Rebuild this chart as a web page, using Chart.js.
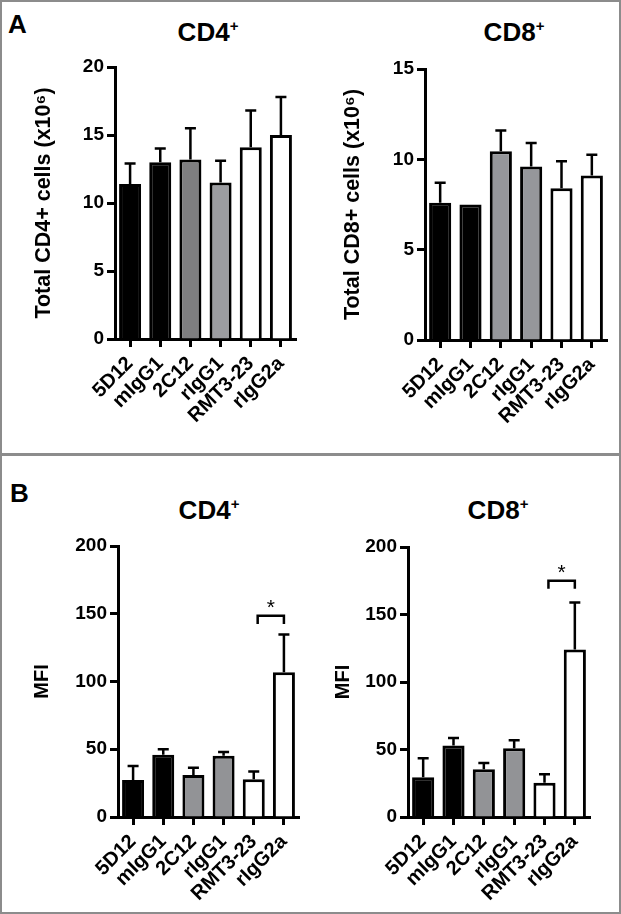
<!DOCTYPE html>
<html>
<head>
<meta charset="utf-8">
<script src="https://cdn.jsdelivr.net/npm/chart.js@4.4.0/dist/chart.umd.min.js"></script>
<style>
  body { margin: 0; background: #fff; font-family: 'Liberation Sans', Arial, sans-serif; }
  #fig { position: relative; width: 621px; height: 914px; overflow: hidden; }
  .moldura { position: absolute; border: 2px solid #8c8c8c; box-sizing: border-box; }
  .caixa { position: absolute; }
  .titulo { position: absolute; width: 120px; text-align: center; font-weight: bold; font-size: 26px; line-height: 26px; }
  .titulo sup { font-size: 15px; line-height: 0; }
  .letra { position: absolute; font-weight: bold; font-size: 26px; line-height: 26px; }
</style>
</head>
<body>
<div id="fig">
  <div class="moldura" style="left:0;top:0;width:621px;height:456px;"></div>
  <div class="moldura" style="left:0;top:453px;width:621px;height:461px;"></div>

  <div class="letra" style="left:8px;top:11px;">A</div>
  <div class="letra" style="left:10px;top:480px;">B</div>

  <div class="titulo" style="left:148px;top:19px;">CD4<sup>+</sup></div>
  <div class="titulo" style="left:454px;top:19px;">CD8<sup>+</sup></div>
  <div class="titulo" style="left:149px;top:497px;">CD4<sup>+</sup></div>
  <div class="titulo" style="left:438px;top:497px;">CD8<sup>+</sup></div>

  <div class="caixa" style="left:0;top:50px;width:310px;height:400px;"><canvas id="total-cd4"></canvas></div>
  <div class="caixa" style="left:310px;top:50px;width:310px;height:400px;"><canvas id="total-cd8"></canvas></div>
  <div class="caixa" style="left:0;top:520px;width:310px;height:393px;"><canvas id="mfi-cd4"></canvas></div>
  <div class="caixa" style="left:310px;top:520px;width:310px;height:393px;"><canvas id="mfi-cd8"></canvas></div>
</div>

<script>
// dados
var grupos = ['5D12', 'mIgG1', '2C12', 'rIgG1', 'RMT3-23', 'rIgG2a'];

var totalCd4 = [11.4, 13.0, 13.2, 11.5, 14.1, 15.0];
var totalCd4Erro = [1.5, 1.0, 2.3, 1.6, 2.7, 2.8];

var totalCd8 = [7.6, 7.5, 10.45, 9.6, 8.4, 9.1];
var totalCd8Erro = [1.1, 0, 1.15, 1.3, 1.5, 1.15];

var mfiCd4 = [27.3, 46, 31, 45.2, 27.8, 106.8];
var mfiCd4Erro = [10.3, 4, 5.4, 2.8, 5.7, 27.9];

var mfiCd8 = [29.5, 53, 35.4, 51, 25.3, 124];
var mfiCd8Erro = [14, 5.5, 4.6, 5.8, 6.4, 34.9];

// significancia: colchete entre RMT3-23 e rIgG2a
var sigCd4 = { de: 4, ate: 5, topo: 148.6, perna: 142.4, estrela: 158.5 };
var sigCd8 = { de: 4, ate: 5, topo: 175, perna: 169, estrela: 185 };

var coresTotalCd4 = ['#000000', '#000000', '#7e7e80', '#9c9da1', '#ffffff', '#ffffff'];
var coresTotalCd8 = ['#000000', '#000000', '#96979b', '#96979b', '#ffffff', '#ffffff'];
var coresMfi = ['#000000', '#000000', '#929396', '#929396', '#ffffff', '#ffffff'];

var fonte = "'Liberation Sans', Arial, sans-serif";

var barrasErro = {
  id: 'barrasErro',
  afterDatasetsDraw: function (chart, args, opts) {
    var ctx = chart.ctx;
    var y = chart.scales.y;
    var meta = chart.getDatasetMeta(0);
    var valores = chart.data.datasets[0].data;
    ctx.save();
    ctx.strokeStyle = '#000';
    ctx.lineWidth = 2.5;
    meta.data.forEach(function (bar, i) {
      if (!opts.erro[i]) return;
      var topo = y.getPixelForValue(valores[i] + opts.erro[i]);
      ctx.beginPath();
      ctx.moveTo(bar.x, bar.y);
      ctx.lineTo(bar.x, topo);
      ctx.moveTo(bar.x - 5.5, topo);
      ctx.lineTo(bar.x + 5.5, topo);
      ctx.stroke();
    });

    var sig = opts.sig;
    if (sig) {
      var xa = meta.data[sig.de].x;
      var xb = meta.data[sig.ate].x;
      var esq = xa + (xb - xa) * 0.13;
      var dir = xb;
      var yt = y.getPixelForValue(sig.topo);
      var yp = y.getPixelForValue(sig.perna);
      ctx.lineWidth = 2.5;
      ctx.beginPath();
      ctx.moveTo(esq, yp);
      ctx.lineTo(esq, yt);
      ctx.lineTo(dir, yt);
      ctx.lineTo(dir, yp);
      ctx.stroke();
      ctx.fillStyle = '#000';
      ctx.font = '21px ' + fonte;
      ctx.textAlign = 'center';
      ctx.textBaseline = 'alphabetic';
      ctx.fillText('*', (esq + dir) / 2, y.getPixelForValue(sig.estrela) + 12);
    }
    ctx.restore();
  }
};

function criarGrafico(id, valores, erros, cores, maximo, passo, tituloY, area, sig) {
  return new Chart(document.getElementById(id), {
    type: 'bar',
    data: {
      labels: grupos,
      datasets: [{
        data: valores,
        backgroundColor: cores,
        borderColor: '#000',
        borderWidth: 3,
        barPercentage: 0.73,
        categoryPercentage: 1
      }]
    },
    options: {
      responsive: true,
      maintainAspectRatio: false,
      animation: false,
      layout: {
        padding: { left: area.esq, top: area.topo, right: area.dir, bottom: 0 }
      },
      plugins: {
        legend: { display: false },
        tooltip: { enabled: false },
        barrasErro: { erro: erros, sig: sig }
      },
      scales: {
        x: {
          grid: { drawOnChartArea: false, offset: false, tickLength: 8, tickWidth: 3, tickColor: '#000' },
          border: { display: true, width: 3, color: '#000' },
          ticks: {
            color: '#000',
            font: { family: fonte, size: 20, weight: 'bold' },
            minRotation: 45,
            maxRotation: 45,
            autoSkip: false,
            padding: 5
          },
          afterFit: function (s) { s.height = area.alturaX; }
        },
        y: {
          min: 0,
          max: maximo,
          grid: { drawOnChartArea: false, tickLength: 8, tickWidth: 3, tickColor: '#000' },
          border: { display: true, width: 3, color: '#000' },
          ticks: {
            stepSize: passo,
            color: '#000',
            font: { family: fonte, size: 19, weight: 'bold' },
            padding: 3
          },
          title: {
            display: true,
            text: tituloY,
            color: '#000',
            font: { family: fonte, size: area.fonteTitulo, weight: 'bold' },
            padding: 0
          },
          afterFit: function (s) { s.width = area.larguraY; }
        }
      }
    },
    plugins: [barrasErro]
  });
}

criarGrafico('total-cd4', totalCd4, totalCd4Erro, coresTotalCd4, 20, 5, 'Total CD4+ cells (x10\u2076)',
  { esq: 31, topo: 17, dir: 14, larguraY: 84, alturaX: 111, fonteTitulo: 21.5 }, null);

criarGrafico('total-cd8', totalCd8, totalCd8Erro, coresTotalCd8, 15, 5, 'Total CD8+ cells (x10\u2076)',
  { esq: 30, topo: 19, dir: 13, larguraY: 85, alturaX: 110, fonteTitulo: 21.5 }, null);

criarGrafico('mfi-cd4', mfiCd4, mfiCd4Erro, coresMfi, 200, 50, 'MFI',
  { esq: 30, topo: 26, dir: 11, larguraY: 88, alturaX: 96, fonteTitulo: 20 }, sigCd4);

criarGrafico('mfi-cd8', mfiCd8, mfiCd8Erro, coresMfi, 200, 50, 'MFI',
  { esq: 21, topo: 27, dir: 30, larguraY: 77, alturaX: 96, fonteTitulo: 20 }, sigCd8);
</script>
</body>
</html>
